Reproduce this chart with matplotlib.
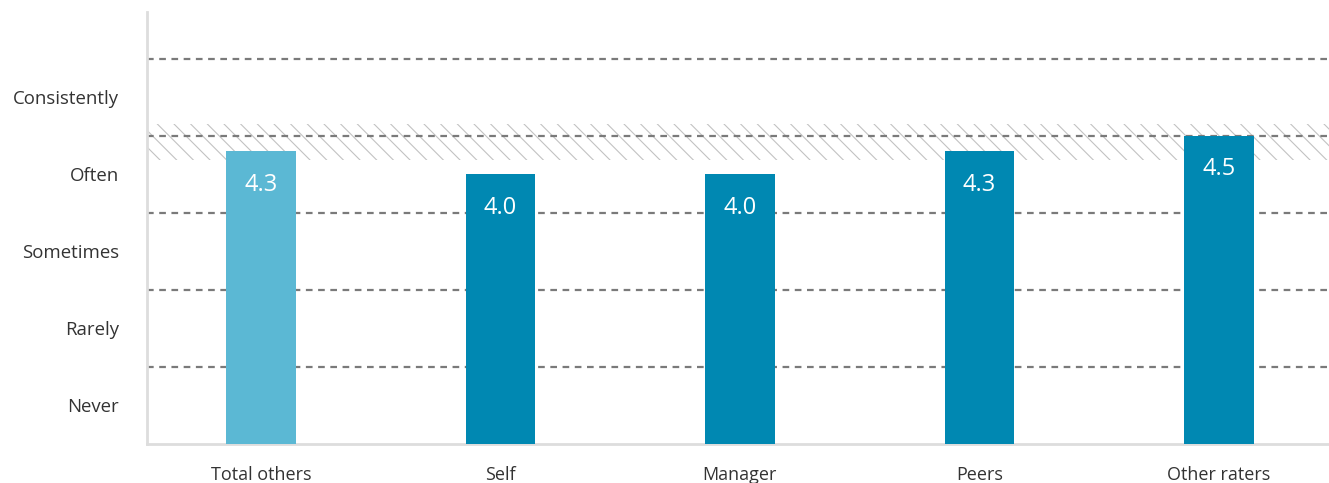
import matplotlib
matplotlib.use("Agg")
import matplotlib.pyplot as plt

categories = ["Total others", "Self", "Manager", "Peers", "Other raters"]
scores = [4.3, 4.0, 4.0, 4.3, 4.5]
bar_colors = ["#5bb8d4", "#0088b2", "#0088b2", "#0088b2", "#0088b2"]
scale_labels = ["Never", "Rarely", "Sometimes", "Often", "Consistently"]
scale_values = [1, 2, 3, 4, 5]
norm_band = (4.19, 4.66)

plt.rcParams['font.family'] = ['Open Sans', 'DejaVu Sans']
plt.rcParams['hatch.linewidth'] = 0.8

fig = plt.figure(figsize=(13.29, 4.83), dpi=100)
ax = fig.add_axes([147 / 1329, 39 / 483, 1182 / 1329, 432 / 483])

base = 0.5
x = list(range(len(categories)))

# hatched norm band behind everything
ax.fill_between([-0.5, len(categories)], norm_band[0], norm_band[1],
                facecolor='none', edgecolor='#c2c2c2', hatch='\\\\',
                linewidth=0, zorder=1)

# dashed boundaries between scale points
for b in [1.5, 2.5, 3.5, 4.5, 5.5]:
    ax.axhline(b, color='#7a7a7a', linestyle=(0, (3, 2.5)), linewidth=1.6, zorder=2)

heights = [s - base for s in scores]
ax.bar(x, heights, bottom=base, width=0.29, color=bar_colors, zorder=3)

for xi, s in zip(x, scores):
    ax.annotate(f"{s:.1f}", (xi, s), xytext=(0, -24), textcoords='offset points',
                ha='center', va='center', color='white', fontsize=17, zorder=4)

ax.set_xlim(-0.476, 4.46)
ax.set_ylim(base, 6.11)
ax.set_xticks(x)
ax.set_xticklabels(categories, fontsize=13, color='#333333')
ax.set_yticks(scale_values)
ax.set_yticklabels(scale_labels, fontsize=13.4, color='#333333')
ax.tick_params(axis='both', length=0)
ax.tick_params(axis='x', pad=16)
ax.tick_params(axis='y', pad=20)

for side in ['top', 'right']:
    ax.spines[side].set_visible(False)
for side in ['left', 'bottom']:
    ax.spines[side].set_color('#dddddd')
    ax.spines[side].set_linewidth(2)

fig.savefig("out.png", dpi=100)
